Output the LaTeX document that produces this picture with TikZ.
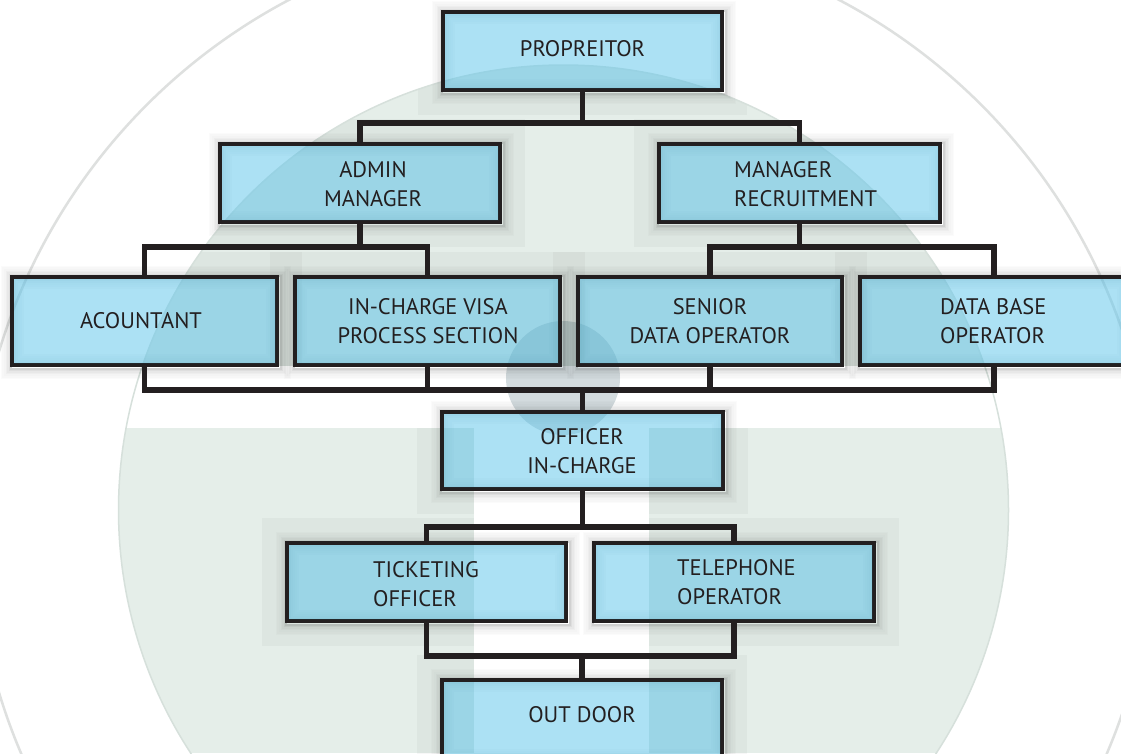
\documentclass[tikz,border=0pt]{standalone}
\usepackage{fontspec}
\setmainfont{PT Sans}
\usetikzlibrary{calc}
\definecolor{ink}{RGB}{35,31,32}
\definecolor{diskc}{RGB}{229,238,233}
\definecolor{edgec}{RGB}{214,224,219}
\definecolor{ringc}{RGB}{222,224,223}
\definecolor{boxc}{RGB}{91,197,235}
\definecolor{vign}{RGB}{30,110,140}
\definecolor{dotc}{RGB}{80,115,125}
\pgfdeclarelayer{bg}
\pgfdeclarelayer{shade}
\pgfsetlayers{bg,shade,main}
\newcommand\orgdeco[1]{%
  \begin{pgfonlayer}{shade}
    \foreach \i/\o in {1/0.18,2/0.13,3/0.09,4/0.065,5/0.045,6/0.03,7/0.015}{
      \draw[black, opacity=\o, line width=1.6pt]
        ([shift={({1.5pt-(0.7pt+1.6pt*\i)},{-1.5pt-(0.7pt+1.6pt*\i)})}]#1.south west) rectangle
        ([shift={({1.5pt+(0.7pt+1.6pt*\i)},{-1.5pt+(0.7pt+1.6pt*\i)})}]#1.north east);
    }
  \end{pgfonlayer}
  \foreach \i/\o in {1/0.10,2/0.07,3/0.05,4/0.035,5/0.02}{
    \draw[vign, opacity=\o, line width=2pt]
      ([shift={({0.5pt+2pt*\i},{0.5pt+2pt*\i})}]#1.south west) rectangle
      ([shift={({-0.5pt-2pt*\i},{-0.5pt-2pt*\i})}]#1.north east);
  }
}
\begin{document}
\begin{tikzpicture}[x=1pt,y=-1pt,
  orgbox/.style={draw=ink, line width=3.2pt, fill=boxc, fill opacity=0.5, draw opacity=1,
    rectangle, inner sep=0pt, outer sep=0pt, anchor=north west},
  lbl/.style={text=ink, font=\fontsize{22.5}{29}\selectfont, inner sep=0pt},
  conn/.style={draw=ink, line width=5.5pt, line join=miter},
]
\useasboundingbox (0,0) rectangle (1121,753);

% boxes
\node[orgbox, minimum width=279pt, minimum height=78pt] (prop) at (443,12) {};
\node[orgbox, minimum width=280pt, minimum height=78pt] (admin) at (220,144) {};
\node[orgbox, minimum width=281pt, minimum height=78pt] (mgr) at (659,144) {};
\node[orgbox, minimum width=265pt, minimum height=88pt] (acc) at (12,277) {};
\node[orgbox, minimum width=265pt, minimum height=88pt] (visa) at (295,277) {};
\node[orgbox, minimum width=264pt, minimum height=88pt] (senior) at (578,277) {};
\node[orgbox, minimum width=268pt, minimum height=88pt] (dbop) at (860,277) {};
\node[orgbox, minimum width=281pt, minimum height=77pt] (officer) at (442,412) {};
\node[orgbox, minimum width=279pt, minimum height=78pt] (ticket) at (287,543) {};
\node[orgbox, minimum width=280pt, minimum height=78pt] (tel) at (594,543) {};
\node[orgbox, minimum width=280pt, minimum height=80pt] (outd) at (442,680) {};

\foreach \n in {prop,admin,mgr,acc,visa,senior,dbop,officer,ticket,tel,outd}{\orgdeco{\n}}

% background logo
\begin{pgfonlayer}{bg}
  \fill[white] (0,0) rectangle (1121,753);
  \begin{scope}
    \clip (563.5,510) circle[radius=445pt];
    \fill[diskc] (0,0) rectangle (1121,753);
    \foreach \n in {prop,admin,mgr,acc,visa,senior,dbop,officer,ticket,tel,outd}{
      \fill[black, opacity=0.03] ([shift={(-25pt,-25pt)}]\n.south west) rectangle ([shift={(25pt,25pt)}]\n.north east);
    }
    \fill[white] (0,366) rectangle (1121,428);
    \fill[white] (474,428) rectangle (649,753);
  \end{scope}
  \draw[edgec, line width=1.5pt] (563.5,510) circle[radius=445pt];
  \draw[ringc, line width=2.5pt] (564,522) circle[radius=590pt];
  \fill[dotc, opacity=0.25] (563,378) circle[radius=57pt];
\end{pgfonlayer}

% connectors
\coordinate (b1) at (0,123);
\coordinate (b2) at (0,247);
\coordinate (b3) at (0,390);
\coordinate (b4) at (0,527);
\coordinate (b5) at (0,656);
\draw[conn] (prop.south) -- (prop.south |- b1);
\draw[conn] (admin.north) -- (admin.north |- b1) -- (mgr.north |- b1) -- (mgr.north);
\draw[conn] (admin.south) -- (admin.south |- b2);
\draw[conn] (acc.north) -- (acc.north |- b2) -- (visa.north |- b2) -- (visa.north);
\draw[conn] (mgr.south) -- (mgr.south |- b2);
\draw[conn] (senior.north) -- (senior.north |- b2) -- (dbop.north |- b2) -- (dbop.north);
\draw[conn] (acc.south) -- (acc.south |- b3) -- (dbop.south |- b3) -- (dbop.south);
\draw[conn] (visa.south) -- (visa.south |- b3);
\draw[conn] (senior.south) -- (senior.south |- b3);
\draw[conn] (officer.north) -- (officer.north |- b3);
\draw[conn] (officer.south) -- (officer.south |- b4);
\draw[conn] (ticket.north) -- (ticket.north |- b4) -- (tel.north |- b4) -- (tel.north);
\draw[conn] (ticket.south) -- (ticket.south |- b5) -- (tel.south |- b5) -- (tel.south);
\draw[conn] (outd.north) -- (outd.north |- b5);

% labels
\node[lbl] (prop-t) at (582.5,49) {PROPREITOR};
\node[lbl, align=center] (admin-t) at (373,184) {ADMIN\\MANAGER};
\node[lbl, align=left, anchor=west] (mgr-t) at (734,184) {MANAGER\\RECRUITMENT};
\node[lbl] (acc-t) at (141,321) {ACOUNTANT};
\node[lbl, align=center] (visa-t) at (428,321) {IN-CHARGE VISA\\PROCESS SECTION};
\node[lbl, align=center] (senior-t) at (710,321) {SENIOR\\DATA OPERATOR};
\node[lbl, align=left, anchor=west] (dbop-t) at (940,321) {DATA BASE\\OPERATOR};
\node[lbl, align=center] (officer-t) at (582,451) {OFFICER\\IN-CHARGE};
\node[lbl, align=left, anchor=west] (ticket-t) at (373,584) {TICKETING\\OFFICER};
\node[lbl, align=left, anchor=west] (tel-t) at (677,582) {TELEPHONE\\OPERATOR};
\node[lbl] (outd-t) at (582,715) {OUT DOOR};
\end{tikzpicture}
\end{document}
